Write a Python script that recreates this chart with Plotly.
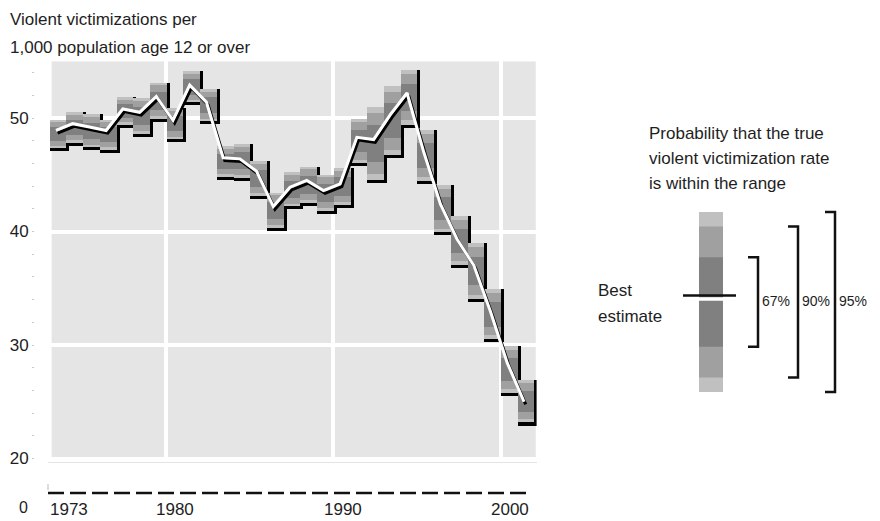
import plotly.graph_objects as go

# Violent victimization rate per 1,000 persons age 12+, 1973-2001
years = list(range(1973, 2002))
best_estimate = [48.9, 49.5, 49.2, 48.9, 50.8, 50.5, 51.9, 49.8, 52.9, 51.4,
                 46.5, 46.4, 45.3, 42.2, 43.9, 44.5, 43.6, 44.2, 48.3, 48.1,
                 50.3, 52.2, 47.0, 42.4, 39.3, 37.0, 32.9, 28.4, 25.0]
upper_95 = [49.8, 50.5, 50.3, 49.8, 51.8, 51.7, 53.1, 50.85, 54.1, 52.5,
            47.5, 47.7, 46.2, 43.4, 45.2, 45.7, 45.0, 45.6, 49.9, 50.95,
            52.8, 54.2, 48.9, 44.1, 41.3, 39.0, 34.9, 29.9, 26.9]
lower_95 = [47.3, 47.8, 47.4, 47.2, 49.4, 48.6, 49.9, 48.1, 51.35, 49.7,
            44.8, 44.7, 43.1, 40.3, 42.2, 42.5, 41.75, 42.3, 46.0, 44.5,
            46.7, 49.4, 44.4, 39.9, 37.0, 34.0, 30.5, 25.75, 23.15]
year_labels = ["1973", "1980", "1990", "2000"]
range_labels = ["67%", "90%", "95%"]

# two-sided normal quantiles for the shaded ranges
Z95, Z90, Z67 = 1.96, 1.645, 0.974

W, H = 880, 521
def px(x):
    return x / W
def py(y):
    return 1 - y / H

C_LIGHT, C_MED, C_DARK = "#c0c0c0", "#a0a0a0", "#808080"
TEXT = "#1e1e1e"
FONT = "Liberation Sans, Arial, sans-serif"

mid = [(u + l) / 2 for u, l in zip(upper_95, lower_95)]
se = [(u - l) / (2 * Z95) for u, l in zip(upper_95, lower_95)]

SHADOW_X = 0.18   # years
SHADOW_Y = 0.27   # rate units

fig = go.Figure()

# black drop shadow behind each year's bar
fig.add_trace(go.Bar(
    x=[y + 0.5 + SHADOW_X / 2 for y in years],
    base=[l - SHADOW_Y for l in lower_95],
    y=[u - l + SHADOW_Y for u, l in zip(upper_95, lower_95)],
    width=1 + SHADOW_X,
    marker=dict(color="black", line=dict(width=0)),
    hoverinfo="skip",
))

# shaded probability ranges, widest first
for z, col in [(Z95, C_LIGHT), (Z90, C_MED), (Z67, C_DARK)]:
    fig.add_trace(go.Bar(
        x=[y + 0.5 for y in years],
        base=[m - z * s for m, s in zip(mid, se)],
        y=[2 * z * s for s in se],
        width=1,
        marker=dict(color=col, line=dict(width=0)),
        hoverinfo="skip",
    ))

# best-estimate line: dark offset underlay, white line on top
fig.add_trace(go.Scatter(
    x=[y + 0.4 + 0.1 for y in years],
    y=[v - 0.24 for v in best_estimate],
    mode="lines", line=dict(color="black", width=3),
    hoverinfo="skip",
))
fig.add_trace(go.Scatter(
    x=[y + 0.4 for y in years],
    y=best_estimate,
    mode="lines", line=dict(color="white", width=3),
))

shapes = []
# grey panel
shapes.append(dict(type="rect", xref="x", yref="y", x0=1973.14, x1=2002.1,
                   y0=20, y1=55, fillcolor="#e5e5e5", line=dict(width=0),
                   layer="below"))
# axis break
shapes.append(dict(type="line", xref="paper", yref="paper",
                   x0=px(48), x1=px(532), y0=py(493), y1=py(493),
                   line=dict(color="#111", width=2.5, dash="16px,6px")))
shapes.append(dict(type="line", xref="paper", yref="paper",
                   x0=px(48), x1=px(48), y0=py(484), y1=py(490),
                   line=dict(color="#bbb", width=1)))

# key: stacked bar, best-estimate tick and brackets
kx0, kx1, kc, ksig = 699, 723, 302, 45.9
for z, col in [(Z95, C_LIGHT), (Z90, C_MED), (Z67, C_DARK)]:
    shapes.append(dict(type="rect", xref="paper", yref="paper",
                       x0=px(kx0), x1=px(kx1),
                       y0=py(kc + z * ksig), y1=py(kc - z * ksig),
                       fillcolor=col, line=dict(width=0)))
shapes.append(dict(type="line", xref="paper", yref="paper",
                   x0=px(683), x1=px(736), y0=py(299), y1=py(299),
                   line=dict(color="white", width=3.5)))
shapes.append(dict(type="line", xref="paper", yref="paper",
                   x0=px(683), x1=px(736), y0=py(295.5), y1=py(295.5),
                   line=dict(color="#111", width=2.5)))

bracket_x = [758, 798, 835]
annotations = []
for bx, z, lab in zip(bracket_x, [Z67, Z90, Z95], range_labels):
    top, bot = kc - z * ksig, kc + z * ksig
    path = "M {} {} L {} {} L {} {} L {} {}".format(
        px(bx - 10), py(top), px(bx), py(top),
        px(bx), py(bot), px(bx - 10), py(bot))
    shapes.append(dict(type="path", xref="paper", yref="paper", path=path,
                       line=dict(color="#111", width=2.5)))
    annotations.append(dict(x=px(bx + 18), y=py(301), xref="paper", yref="paper",
                            text=lab, showarrow=False, xanchor="center",
                            yanchor="middle", font=dict(size=14)))

def note(text, x, y, xanchor="left", size=17, xref="paper"):
    annotations.append(dict(x=x, y=py(y), xref=xref, yref="paper", text=text,
                            showarrow=False, xanchor=xanchor, yanchor="middle",
                            font=dict(size=size)))

note("Violent victimizations per", px(8), 20)
note("1,000 population age 12 or over", px(8), 47)
note("Probability that the true", px(647), 133)
note("violent victimization rate", px(647), 158)
note("is within the range", px(647), 183)
note("Best", px(596), 290)
note("estimate", px(596), 316)
note("0", px(23), 507, xanchor="center", size=16)

label_pos = [1972.95, 1980.54, 1990.54, 2000.54]
for lab, xp in zip(year_labels, label_pos):
    note(lab, xp, 509, xanchor="left" if lab == "1973" else "center",
         size=17, xref="x")

fig.update_layout(
    width=W, height=H,
    margin=dict(l=0, r=0, t=0, b=0),
    paper_bgcolor="white", plot_bgcolor="rgba(0,0,0,0)",
    barmode="overlay", bargap=0, showlegend=False,
    font=dict(family=FONT, size=16, color=TEXT),
    shapes=shapes, annotations=annotations,
    xaxis=dict(domain=[px(47.6), px(536.6)], range=[1972.9, 2002.15],
               tickvals=[1980, 1990, 2000], showticklabels=False, ticks="",
               showgrid=True, gridcolor="white", gridwidth=4,
               zeroline=False, showline=True, linecolor="#e4e4e4",
               linewidth=1, automargin=False),
    yaxis=dict(domain=[py(461.9), py(61.25)], range=[19.7, 55],
               anchor="free", position=px(34),
               tickvals=[20, 30, 40, 50], ticks="outside", ticklen=2,
               tickcolor="#c8c8c8",
               minor=dict(tick0=20, dtick=2, ticks="outside", ticklen=2,
                          tickcolor="#c8c8c8", showgrid=False),
               showgrid=True, gridcolor="white", gridwidth=4,
               zeroline=False, showline=False, automargin=False,
               tickfont=dict(size=17)),
)

fig.write_html("out.html")
